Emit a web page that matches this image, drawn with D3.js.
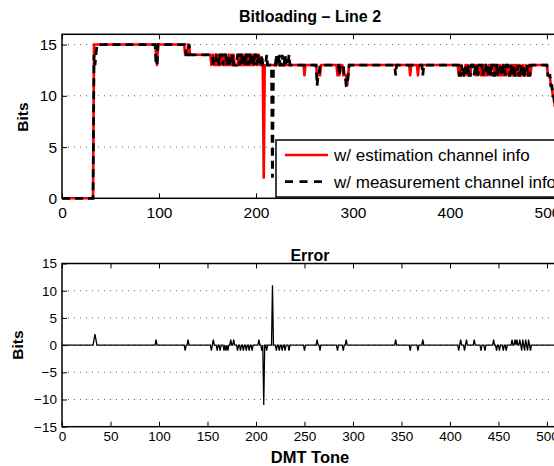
<!DOCTYPE html>
<html>
<head>
<meta charset="utf-8">
<script src="https://cdn.jsdelivr.net/npm/d3@7"></script>
<style>
  body { margin: 0; background: #fff; }
  text { font-family: "Liberation Sans", Arial, sans-serif; }
</style>
</head>
<body>
<div class="d3-container"></div>
<script>
// bits per DMT tone (0..511)
const estBits = [
  0,0,0,0,0,0,0,0,0,0,0,0,0,0,0,0,0,0,0,0,0,0,0,0,0,0,0,0,0,0,0,0,
  0,15,15,15,15,15,15,15,15,15,15,15,15,15,15,15,15,15,15,15,15,15,15,15,15,15,15,15,15,15,15,15,
  15,15,15,15,15,15,15,15,15,15,15,15,15,15,15,15,15,15,15,15,15,15,15,15,15,15,15,15,15,15,15,15,
  15,14,13,15,15,15,15,15,15,15,15,15,15,15,15,15,15,15,15,15,15,15,15,15,15,15,15,15,15,15,15,14,
  14,14,15,15,14,14,14,14,14,14,14,14,14,14,14,14,14,14,14,14,14,14,14,14,14,14,13,14,14,13,13,14,
  13,14,13,13,14,14,13,13,14,13,13,13,14,13,14,13,14,14,13,13,13,13,14,13,13,14,13,13,14,13,13,14,
  13,13,14,13,13,14,13,14,14,13,14,14,13,13,13,13,2,13,13,13,13,13,13,13,13,13,13,13,13,13,13,13,
  13,13,13,13,13,13,13,13,13,13,13,13,13,13,13,13,13,13,13,13,13,13,13,13,13,13,12,13,13,13,13,13,
  13,13,13,13,13,13,13,12,12,12,12,13,13,13,13,13,13,13,13,13,13,13,13,13,13,13,13,13,12,13,12,13,
  13,13,12,12,12,12,11,12,13,13,13,13,13,13,13,13,13,13,13,13,13,13,13,13,13,13,13,13,13,13,13,13,
  13,13,13,13,13,13,13,13,13,13,13,13,13,13,13,13,13,13,13,13,13,13,13,13,13,13,13,13,13,13,13,13,
  13,13,13,13,13,13,13,12,13,13,13,13,13,13,13,12,13,13,13,13,13,13,13,13,13,13,13,13,13,13,13,13,
  13,13,13,13,13,13,13,13,13,13,13,13,13,13,13,13,13,13,13,13,13,13,13,13,13,12,12,13,13,12,12,12,
  13,13,12,13,12,12,13,13,13,13,13,12,13,12,13,13,12,13,12,13,12,13,12,12,13,13,12,13,13,13,12,13,
  12,12,13,12,13,12,12,12,13,12,12,13,13,12,12,13,13,12,13,13,12,13,12,13,13,12,12,13,12,12,13,12,
  12,13,12,12,13,13,13,13,13,13,13,13,13,13,13,13,13,13,13,13,13,12,12,12,11,11,10,10,9,9,9,8
];

const measBits = [
  0,0,0,0,0,0,0,0,0,0,0,0,0,0,0,0,0,0,0,0,0,0,0,0,0,0,0,0,0,0,0,0,
  0,14,13,14,15,15,15,15,15,15,15,15,15,15,15,15,15,15,15,15,15,15,15,15,15,15,15,15,15,15,15,15,
  15,15,15,15,15,15,15,15,15,15,15,15,15,15,15,15,15,15,15,15,15,15,15,15,15,15,15,15,15,15,15,15,
  15,13,13,15,15,15,15,15,15,15,15,15,15,15,15,15,15,15,15,15,15,15,15,15,15,15,15,15,15,15,15,15,
  14,14,14,15,14,14,14,14,14,14,14,14,14,14,14,14,14,14,14,14,14,14,14,14,14,14,14,14,13,13,13,14,
  14,14,13,14,14,14,13,14,14,14,13,14,14,13,13,13,14,13,13,13,13,14,14,13,14,14,13,14,14,13,14,14,
  13,14,14,13,14,14,13,14,14,13,14,13,13,13,14,13,13,13,13,14,13,13,13,13,13,2,13,13,13,14,13,13,
  14,13,13,14,13,13,14,13,13,13,14,13,13,13,13,13,13,13,13,13,13,13,13,13,13,13,13,13,13,13,13,13,
  13,13,13,13,13,13,13,11,12,12,13,13,13,13,13,13,13,13,13,13,13,13,13,13,13,13,13,13,13,13,12,13,
  13,13,13,12,12,11,11,12,13,13,13,13,13,13,13,13,13,13,13,13,13,13,13,13,13,13,13,13,13,13,13,13,
  13,13,13,13,13,13,13,13,13,13,13,13,13,13,13,13,13,13,13,13,13,13,13,13,12,13,13,13,13,13,13,13,
  13,13,13,13,13,13,13,13,13,13,13,13,13,13,13,13,13,13,13,13,12,13,13,13,13,13,13,13,13,13,13,13,
  13,13,13,13,13,13,13,13,13,13,13,13,13,13,13,13,13,13,13,13,13,13,13,13,13,13,12,12,13,12,12,13,
  13,12,12,13,12,12,13,13,13,12,13,12,13,12,13,13,13,13,12,13,13,13,12,12,13,13,12,13,13,12,12,13,
  13,12,13,13,13,12,12,13,13,12,13,13,13,12,12,13,12,12,13,12,12,12,13,12,12,13,12,12,13,12,12,12,
  13,12,12,13,13,13,13,13,13,13,13,13,13,13,13,13,13,13,13,13,13,12,12,12,11,11,10,10,9,9,9,8
];

const errBits = [
  0,0,0,0,0,0,0,0,0,0,0,0,0,0,0,0,0,0,0,0,0,0,0,0,0,0,0,0,0,0,0,0,
  0,1,2,1,0,0,0,0,0,0,0,0,0,0,0,0,0,0,0,0,0,0,0,0,0,0,0,0,0,0,0,0,
  0,0,0,0,0,0,0,0,0,0,0,0,0,0,0,0,0,0,0,0,0,0,0,0,0,0,0,0,0,0,0,0,
  0,1,0,0,0,0,0,0,0,0,0,0,0,0,0,0,0,0,0,0,0,0,0,0,0,0,0,0,0,0,0,-1,
  0,0,1,0,0,0,0,0,0,0,0,0,0,0,0,0,0,0,0,0,0,0,0,0,0,0,-1,0,1,0,0,0,
  -1,0,0,-1,0,0,0,-1,0,-1,0,-1,0,0,1,0,0,1,0,0,0,-1,0,0,-1,0,0,-1,0,0,-1,0,
  0,-1,0,0,-1,0,0,0,0,0,0,1,0,0,-1,0,-11,0,0,-1,0,0,0,0,0,11,0,0,0,-1,0,0,
  -1,0,0,-1,0,0,-1,0,0,0,-1,0,0,0,0,0,0,0,0,0,0,0,0,0,0,0,-1,0,0,0,0,0,
  0,0,0,0,0,0,0,1,0,0,-1,0,0,0,0,0,0,0,0,0,0,0,0,0,0,0,0,0,-1,0,0,0,
  0,0,-1,0,0,1,0,0,0,0,0,0,0,0,0,0,0,0,0,0,0,0,0,0,0,0,0,0,0,0,0,0,
  0,0,0,0,0,0,0,0,0,0,0,0,0,0,0,0,0,0,0,0,0,0,0,0,1,0,0,0,0,0,0,0,
  0,0,0,0,0,0,0,-1,0,0,0,0,0,0,0,-1,0,0,0,0,1,0,0,0,0,0,0,0,0,0,0,0,
  0,0,0,0,0,0,0,0,0,0,0,0,0,0,0,0,0,0,0,0,0,0,0,0,0,-1,0,1,0,0,0,-1,
  0,1,0,0,0,0,0,0,0,1,0,0,0,0,0,0,-1,0,0,0,-1,0,0,0,0,0,0,0,0,1,0,0,
  -1,0,0,-1,0,0,0,-1,0,0,-1,0,0,0,0,0,1,0,0,1,0,1,0,0,1,0,-1,1,0,-1,1,0,
  -1,1,0,-1,0,0,0,0,0,0,0,0,0,0,0,0,0,0,0,0,0,0,0,0,0,0,0,0,0,0,0,0
];

const topXTicks = [0, 100, 200, 300, 400, 500];
const topYTicks = [0, 5, 10, 15];
const botXTicks = [0, 50, 100, 150, 200, 250, 300, 350, 400, 450, 500];
const botYTicks = [-15, -10, -5, 0, 5, 10, 15];
const seriesNames = ["w/ estimation channel info", "w/ measurement channel info"];

const width = 554;
const height = 466;

const svg = d3.select(".d3-container")
  .append("svg")
  .attr("width", width)
  .attr("height", height);

// both panels share the same tone scale (cropped on the right like the original)
const x = d3.scaleLinear().domain([0, 512]).range([62, 558.6]);
const yTop = d3.scaleLinear().domain([0, 16]).range([198.3, 34.3]);
const yBot = d3.scaleLinear().domain([-15, 15]).range([426.7, 263.5]);

// dotted horizontal grid
function grid(g, y, ticks) {
  g.selectAll("line")
    .data(ticks.filter(t => t > y.domain()[0] && t < y.domain()[1]))
    .join("line")
    .attr("x1", x.range()[0]).attr("x2", x.range()[1])
    .attr("y1", d => y(d)).attr("y2", d => y(d))
    .attr("stroke", "#666")
    .attr("stroke-width", 1)
    .attr("stroke-dasharray", "1,5");
}

// frame + inward ticks + labels
function panel(y, xTicks, yTicks, fontSize, xPad) {
  const y0 = y.range()[0], y1 = y.range()[1];
  svg.append("g").call(grid, y, yTicks);

  const xb = svg.append("g")
    .attr("transform", `translate(0,${y0})`)
    .call(d3.axisBottom(x).tickValues(xTicks).tickSize(-5).tickPadding(xPad));
  const xt = svg.append("g")
    .attr("transform", `translate(0,${y1})`)
    .call(d3.axisTop(x).tickValues(xTicks).tickSize(-5).tickFormat(""));
  const yl = svg.append("g")
    .attr("transform", `translate(${x.range()[0]},0)`)
    .call(d3.axisLeft(y).tickValues(yTicks).tickSize(-5).tickPadding(5));

  [xb, xt, yl].forEach(g => {
    g.select(".domain").remove();
    g.selectAll(".tick line").attr("stroke", "#000").attr("stroke-width", 1);
    g.selectAll("text").attr("font-size", fontSize).attr("fill", "#000")
      .attr("font-family", '"Liberation Sans", Arial, sans-serif');
  });

  svg.append("rect")
    .attr("x", x.range()[0]).attr("y", y1)
    .attr("width", x.range()[1] - x.range()[0])
    .attr("height", y0 - y1)
    .attr("fill", "none")
    .attr("stroke", "#000")
    .attr("stroke-width", 1.5);
}

panel(yTop, topXTicks, topYTicks, 15.5, 9);
panel(yBot, botXTicks, botYTicks, 13.5, 5);

// top panel lines
const lineTop = d3.line().x((d, i) => x(i)).y(d => yTop(d));
svg.append("path")
  .datum(estBits)
  .attr("d", lineTop)
  .attr("fill", "none")
  .attr("stroke", "#ff0000")
  .attr("stroke-width", 2.6)
  .attr("stroke-linejoin", "round");
svg.append("path")
  .datum(measBits)
  .attr("d", lineTop)
  .attr("fill", "none")
  .attr("stroke", "#000")
  .attr("stroke-width", 2.8)
  .attr("stroke-dasharray", "8,5");

// error panel line
const lineBot = d3.line().x((d, i) => x(i)).y(d => yBot(d));
svg.append("path")
  .datum(errBits)
  .attr("d", lineBot)
  .attr("fill", "none")
  .attr("stroke", "#000")
  .attr("stroke-width", 1.3);

// legend
const leg = svg.append("g");
leg.append("rect")
  .attr("x", 276).attr("y", 140).attr("width", 320).attr("height", 57)
  .attr("fill", "#fff").attr("stroke", "#000").attr("stroke-width", 1.5);
const legRows = leg.selectAll("g.row")
  .data(seriesNames)
  .join("g")
  .attr("class", "row")
  .attr("transform", (d, i) => `translate(285,${155 + i * 26.7})`);
legRows.append("line")
  .attr("x1", 0).attr("x2", 43)
  .attr("stroke", (d, i) => i === 0 ? "#ff0000" : "#000")
  .attr("stroke-width", (d, i) => i === 0 ? 2.6 : 2.8)
  .attr("stroke-dasharray", (d, i) => i === 0 ? null : "8,6.5");
legRows.append("text")
  .attr("x", 49).attr("dy", "0.35em")
  .attr("font-size", 17)
  .text(d => d);

// titles and axis labels
svg.append("text")
  .attr("x", 310).attr("y", 22)
  .attr("text-anchor", "middle").attr("font-weight", "bold").attr("font-size", 16)
  .text("Bitloading \u2013 Line 2");
svg.append("text")
  .attr("x", 310).attr("y", 261)
  .attr("text-anchor", "middle").attr("font-weight", "bold").attr("font-size", 16)
  .text("Error");
svg.append("text")
  .attr("transform", "translate(28,117) rotate(-90)")
  .attr("text-anchor", "middle").attr("font-weight", "bold").attr("font-size", 15.5)
  .text("Bits");
svg.append("text")
  .attr("transform", "translate(23,345) rotate(-90)")
  .attr("text-anchor", "middle").attr("font-weight", "bold").attr("font-size", 15.5)
  .text("Bits");
svg.append("text")
  .attr("x", 310).attr("y", 463)
  .attr("text-anchor", "middle").attr("font-weight", "bold").attr("font-size", 16.5)
  .text("DMT Tone");
</script>
</body>
</html>
